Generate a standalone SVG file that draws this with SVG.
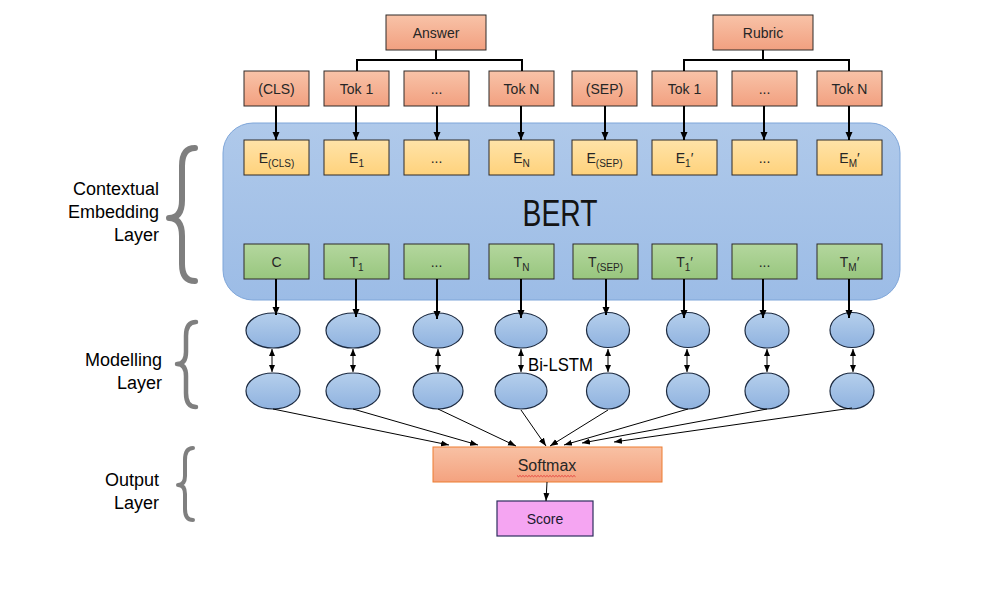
<svg xmlns="http://www.w3.org/2000/svg" width="1008" height="606" viewBox="0 0 1008 606">
<defs>
<linearGradient id="gTok" x1="0" y1="0" x2="0" y2="1"><stop offset="0" stop-color="#f8c3a8"/><stop offset="1" stop-color="#f2a080"/></linearGradient>
<linearGradient id="gE" x1="0" y1="0" x2="0" y2="1"><stop offset="0" stop-color="#ffe3a8"/><stop offset="1" stop-color="#ffd27c"/></linearGradient>
<linearGradient id="gT" x1="0" y1="0" x2="0" y2="1"><stop offset="0" stop-color="#b4d79e"/><stop offset="1" stop-color="#98c67e"/></linearGradient>
<linearGradient id="gBert" x1="0" y1="0" x2="0" y2="1"><stop offset="0" stop-color="#afc9ea"/><stop offset="1" stop-color="#9cbce6"/></linearGradient>
<linearGradient id="gEl" x1="0" y1="0" x2="0" y2="1"><stop offset="0" stop-color="#b5cfec"/><stop offset="1" stop-color="#8fb2df"/></linearGradient>
<linearGradient id="gSm" x1="0" y1="0" x2="0" y2="1"><stop offset="0" stop-color="#f8c1a4"/><stop offset="1" stop-color="#f4a27f"/></linearGradient>
<marker id="ah" markerUnits="userSpaceOnUse" markerWidth="8" markerHeight="8" refX="8" refY="4" orient="auto"><path d="M0,0.5 L8,4 L0,7.5 z" fill="#000"/></marker>
<marker id="as" markerUnits="userSpaceOnUse" markerWidth="8" markerHeight="7" refX="8" refY="3.5" orient="auto"><path d="M0,0.5 L8,3.5 L0,6.5 z" fill="#000"/></marker>
<marker id="ad" markerUnits="userSpaceOnUse" markerWidth="7" markerHeight="6" refX="7" refY="3" orient="auto-start-reverse"><path d="M0,0 L7,3 L0,6 z" fill="#000"/></marker>
<style>
.tok{fill:url(#gTok);stroke:#2e2a28;stroke-width:1}
.emb{fill:url(#gE);stroke:#2e2a28;stroke-width:1}
.tr{fill:url(#gT);stroke:#2e2a28;stroke-width:1}
.el{fill:url(#gEl);stroke:#1c2a40;stroke-width:1.2}
.t{font-family:"Liberation Sans",Arial,sans-serif;font-size:14px;fill:#262626;text-anchor:middle}
.sub{font-size:10px}
.lbl{font-family:"Liberation Sans",Arial,sans-serif;font-size:18px;fill:#000;text-anchor:end}
.brace{fill:none;stroke:#7f7f7f;stroke-linecap:round;stroke-linejoin:round}
.thick{stroke:#000;stroke-width:2;fill:none}
.thin{stroke:#000;stroke-width:1;fill:none}
</style>
</defs>
<rect width="1008" height="606" fill="#fff"/>

<g id="labels">
<text class="lbl" x="159" y="195">Contextual</text>
<text class="lbl" x="159" y="218">Embedding</text>
<text class="lbl" x="159" y="241">Layer</text>
<path class="brace" stroke-width="6" d="M195,148 Q182,148 182,166 L182,200 Q182,218 169,218 Q182,218 182,236 L182,264 Q182,281 195,281"/>
<text class="lbl" x="162" y="366">Modelling</text>
<text class="lbl" x="162" y="389">Layer</text>
<path class="brace" stroke-width="4.5" d="M196,322 Q186,322 186,336 L186,352 Q186,364 177,364 Q186,364 186,376 L186,393 Q186,407 196,407"/>
<text class="lbl" x="159" y="486">Output</text>
<text class="lbl" x="159" y="509">Layer</text>
<path class="brace" stroke-width="4" d="M193,448 Q185,448 185,460 L185,476 Q185,485 178,485 Q185,485 185,494 L185,509 Q185,520 193,520"/>
</g>

<g id="bert">
<rect x="223" y="123" width="677" height="177" rx="30" ry="30" fill="url(#gBert)" stroke="#7fa6d9" stroke-width="1"/>
<text x="560" y="226" font-family="'Liberation Sans',Arial,sans-serif" font-size="36" fill="#141414" text-anchor="middle" textLength="75" lengthAdjust="spacingAndGlyphs">BERT</text>
</g>

<g id="answer"><rect class="tok" x="386" y="15" width="100" height="35"/><text class="t" x="436" y="37.5">Answer</text></g>
<g id="rubric"><rect class="tok" x="713" y="15" width="100" height="35"/><text class="t" x="763" y="37.5">Rubric</text></g>

<g id="tokens">
<g id="tok-cls"><rect class="tok" x="244" y="71" width="65" height="35"/><text class="t" x="276.5" y="93.5">(CLS)</text></g>
<g id="tok-a1"><rect class="tok" x="324" y="71" width="65" height="35"/><text class="t" x="356.5" y="93.5">Tok 1</text></g>
<g id="tok-adots"><rect class="tok" x="404" y="71" width="65" height="35"/><text class="t" x="436.5" y="93.5">...</text></g>
<g id="tok-aN"><rect class="tok" x="489" y="71" width="65" height="35"/><text class="t" x="521.5" y="93.5">Tok N</text></g>
<g id="tok-sep"><rect class="tok" x="572" y="71" width="65" height="35"/><text class="t" x="604.5" y="93.5">(SEP)</text></g>
<g id="tok-r1"><rect class="tok" x="652" y="71" width="65" height="35"/><text class="t" x="684.5" y="93.5">Tok 1</text></g>
<g id="tok-rdots"><rect class="tok" x="732" y="71" width="65" height="35"/><text class="t" x="764.5" y="93.5">...</text></g>
<g id="tok-rN"><rect class="tok" x="817" y="71" width="65" height="35"/><text class="t" x="849.5" y="93.5">Tok N</text></g>
</g>

<g id="embeddings">
<g id="e-cls"><rect class="emb" x="244" y="140" width="65" height="35"/><text class="t" x="276.5" y="162.5">E<tspan class="sub" dy="4">(CLS)</tspan></text></g>
<g id="e-1"><rect class="emb" x="324" y="140" width="65" height="35"/><text class="t" x="356.5" y="162.5">E<tspan class="sub" dy="4">1</tspan></text></g>
<g id="e-dots"><rect class="emb" x="404" y="140" width="65" height="35"/><text class="t" x="436.5" y="162.5">...</text></g>
<g id="e-N"><rect class="emb" x="489" y="140" width="65" height="35"/><text class="t" x="521.5" y="162.5">E<tspan class="sub" dy="4">N</tspan></text></g>
<g id="e-sep"><rect class="emb" x="572" y="140" width="65" height="35"/><text class="t" x="604.5" y="162.5">E<tspan class="sub" dy="4">(SEP)</tspan></text></g>
<g id="e-1p"><rect class="emb" x="652" y="140" width="65" height="35"/><text class="t" x="684.5" y="162.5">E<tspan class="sub" dy="4">1</tspan><tspan dy="-4">′</tspan></text></g>
<g id="e-rdots"><rect class="emb" x="732" y="140" width="65" height="35"/><text class="t" x="764.5" y="162.5">...</text></g>
<g id="e-Mp"><rect class="emb" x="817" y="140" width="65" height="35"/><text class="t" x="849.5" y="162.5">E<tspan class="sub" dy="4">M</tspan><tspan dy="-4">′</tspan></text></g>
</g>

<g id="outputs">
<g id="t-c"><rect class="tr" x="244" y="244" width="65" height="35"/><text class="t" x="276.5" y="266.5">C</text></g>
<g id="t-1"><rect class="tr" x="324" y="244" width="65" height="35"/><text class="t" x="356.5" y="266.5">T<tspan class="sub" dy="4">1</tspan></text></g>
<g id="t-dots"><rect class="tr" x="404" y="244" width="65" height="35"/><text class="t" x="436.5" y="266.5">...</text></g>
<g id="t-N"><rect class="tr" x="489" y="244" width="65" height="35"/><text class="t" x="521.5" y="266.5">T<tspan class="sub" dy="4">N</tspan></text></g>
<g id="t-sep"><rect class="tr" x="573" y="244" width="65" height="35"/><text class="t" x="605.5" y="266.5">T<tspan class="sub" dy="4">(SEP)</tspan></text></g>
<g id="t-1p"><rect class="tr" x="652" y="244" width="65" height="35"/><text class="t" x="684.5" y="266.5">T<tspan class="sub" dy="4">1</tspan><tspan dy="-4">′</tspan></text></g>
<g id="t-rdots"><rect class="tr" x="732" y="244" width="65" height="35"/><text class="t" x="764.5" y="266.5">...</text></g>
<g id="t-Mp"><rect class="tr" x="817" y="244" width="65" height="35"/><text class="t" x="849.5" y="266.5">T<tspan class="sub" dy="4">M</tspan><tspan dy="-4">′</tspan></text></g>
</g>

<g id="lstm">
<g id="lstm-1"><ellipse class="el" cx="273" cy="330.5" rx="27" ry="17.5"/><ellipse class="el" cx="273" cy="391" rx="27" ry="18"/></g>
<g id="lstm-2"><ellipse class="el" cx="353" cy="330.5" rx="27" ry="17.5"/><ellipse class="el" cx="353" cy="391" rx="27" ry="18"/></g>
<g id="lstm-3"><ellipse class="el" cx="438" cy="330.5" rx="25" ry="17.5"/><ellipse class="el" cx="438" cy="391" rx="25" ry="18"/></g>
<g id="lstm-4"><ellipse class="el" cx="521" cy="330.5" rx="26" ry="17.5"/><ellipse class="el" cx="521" cy="391" rx="26" ry="18"/></g>
<g id="lstm-5"><ellipse class="el" cx="608" cy="330" rx="21.5" ry="17.5"/><ellipse class="el" cx="608" cy="391" rx="21.5" ry="18"/></g>
<g id="lstm-6"><ellipse class="el" cx="688" cy="330" rx="21.5" ry="17.5"/><ellipse class="el" cx="688" cy="391" rx="21.5" ry="18"/></g>
<g id="lstm-7"><ellipse class="el" cx="767" cy="330.5" rx="22" ry="17.5"/><ellipse class="el" cx="767" cy="391" rx="22" ry="18"/></g>
<g id="lstm-8"><ellipse class="el" cx="852" cy="330" rx="22" ry="17.5"/><ellipse class="el" cx="852" cy="391" rx="22" ry="18"/></g>
<text x="528" y="371" font-family="'Liberation Sans',Arial,sans-serif" font-size="18" fill="#000" textLength="65" lengthAdjust="spacingAndGlyphs">Bi-LSTM</text>
</g>

<g id="softmax">
<rect x="433" y="447" width="229" height="35" fill="url(#gSm)" stroke="#ed7d31" stroke-width="1"/>
<text x="547" y="471" font-family="'Liberation Sans',Arial,sans-serif" font-size="16" fill="#262626" text-anchor="middle">Softmax</text>
<path d="M517,475.5 l1.5,1.2 l1.5,-1.2 l1.5,1.2 l1.5,-1.2 l1.5,1.2 l1.5,-1.2 l1.5,1.2 l1.5,-1.2 l1.5,1.2 l1.5,-1.2 l1.5,1.2 l1.5,-1.2 l1.5,1.2 l1.5,-1.2 l1.5,1.2 l1.5,-1.2 l1.5,1.2 l1.5,-1.2 l1.5,1.2 l1.5,-1.2 l1.5,1.2 l1.5,-1.2 l1.5,1.2 l1.5,-1.2 l1.5,1.2 l1.5,-1.2 l1.5,1.2 l1.5,-1.2 l1.5,1.2 l1.5,-1.2 l1.5,1.2 l1.5,-1.2 l1.5,1.2 l1.5,-1.2 l1.5,1.2 l1.5,-1.2 l1.5,1.2 l1.5,-1.2 l1.5,1.2" fill="none" stroke="#e03030" stroke-width="0.8"/>
</g>

<g id="score">
<rect x="497" y="501" width="96" height="35" fill="#f5a5f2" stroke="#2e2e5e" stroke-width="1.2"/>
<text x="545" y="524" font-family="'Liberation Sans',Arial,sans-serif" font-size="14" fill="#1a1a2e" text-anchor="middle">Score</text>
</g>

<g id="connectors">
<path class="thick" stroke-width="2.5" d="M436,50 V60 M357,60 H522 M357,59 V71 M522,59 V71"/>
<path class="thick" stroke-width="2.5" d="M763,50 V60 M684,60 H849 M684,59 V71 M849,59 V71"/>
<line class="thick" x1="276" y1="106" x2="276" y2="140" marker-end="url(#ah)"/>
<line class="thick" x1="356" y1="106" x2="356" y2="140" marker-end="url(#ah)"/>
<line class="thick" x1="437" y1="106" x2="437" y2="140" marker-end="url(#ah)"/>
<line class="thick" x1="521" y1="106" x2="521" y2="140" marker-end="url(#ah)"/>
<line class="thick" x1="605" y1="106" x2="605" y2="140" marker-end="url(#ah)"/>
<line class="thick" x1="684" y1="106" x2="684" y2="140" marker-end="url(#ah)"/>
<line class="thick" x1="764" y1="106" x2="764" y2="140" marker-end="url(#ah)"/>
<line class="thick" x1="849" y1="106" x2="849" y2="140" marker-end="url(#ah)"/>
<line class="thick" x1="276" y1="279" x2="276" y2="315" marker-end="url(#ah)"/>
<line class="thick" x1="356" y1="279" x2="356" y2="317" marker-end="url(#ah)"/>
<line class="thick" x1="437" y1="279" x2="437" y2="319" marker-end="url(#ah)"/>
<line class="thick" x1="521" y1="279" x2="521" y2="318" marker-end="url(#ah)"/>
<line class="thick" x1="606" y1="279" x2="606" y2="315" marker-end="url(#ah)"/>
<line class="thick" x1="684" y1="279" x2="684" y2="318" marker-end="url(#ah)"/>
<line class="thick" x1="763" y1="279" x2="763" y2="318" marker-end="url(#ah)"/>
<line class="thick" x1="849" y1="279" x2="849" y2="318" marker-end="url(#ah)"/>
<line class="thin" stroke-width="1.5" x1="272" y1="349" x2="272" y2="372" marker-start="url(#ad)" marker-end="url(#ad)"/>
<line class="thin" stroke-width="1.5" x1="353" y1="349" x2="353" y2="372" marker-start="url(#ad)" marker-end="url(#ad)"/>
<line class="thin" stroke-width="1.5" x1="438" y1="349" x2="438" y2="372" marker-start="url(#ad)" marker-end="url(#ad)"/>
<line class="thin" stroke-width="1.5" x1="521" y1="349" x2="521" y2="372" marker-start="url(#ad)" marker-end="url(#ad)"/>
<line class="thin" stroke-width="1.5" x1="608" y1="349" x2="608" y2="372" marker-start="url(#ad)" marker-end="url(#ad)"/>
<line class="thin" stroke-width="1.5" x1="687" y1="349" x2="687" y2="372" marker-start="url(#ad)" marker-end="url(#ad)"/>
<line class="thin" stroke-width="1.5" x1="767" y1="349" x2="767" y2="372" marker-start="url(#ad)" marker-end="url(#ad)"/>
<line class="thin" stroke-width="1.5" x1="853" y1="349" x2="853" y2="372" marker-start="url(#ad)" marker-end="url(#ad)"/>
<line class="thin" x1="273" y1="409" x2="449" y2="445" marker-end="url(#as)"/>
<line class="thin" x1="353" y1="409" x2="478" y2="445" marker-end="url(#as)"/>
<line class="thin" x1="438" y1="409" x2="516" y2="446" marker-end="url(#as)"/>
<line class="thin" x1="521" y1="410" x2="546" y2="446" marker-end="url(#as)"/>
<line class="thin" x1="608" y1="410" x2="550" y2="446" marker-end="url(#as)"/>
<line class="thin" x1="688" y1="409" x2="564" y2="445" marker-end="url(#as)"/>
<line class="thin" x1="767" y1="409" x2="582" y2="443" marker-end="url(#as)"/>
<line class="thin" x1="852" y1="408" x2="614" y2="442" marker-end="url(#as)"/>
<line class="thin" x1="547" y1="482" x2="546" y2="501" marker-end="url(#as)"/>
</g>
</svg>
